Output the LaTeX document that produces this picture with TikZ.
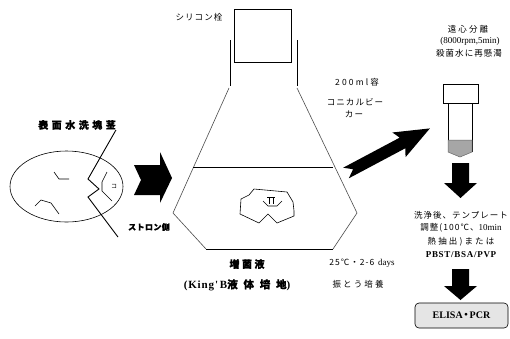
\documentclass[tikz,border=0pt]{standalone}
\usepackage{fontspec}
\setmainfont{Liberation Serif}
\newfontfamily\serifsp{Liberation Serif}[LetterSpace=8]
\newfontfamily\jpa{Noto Sans CJK JP}[LetterSpace=12]
\newfontfamily\jpb{Noto Sans CJK JP}[LetterSpace=25, BoldFeatures={FakeBold=1.2}]
\newfontfamily\jpc{Noto Sans CJK JP}[LetterSpace=35, BoldFeatures={FakeBold=1.2}]
\newfontfamily\jpd{Noto Sans CJK JP}[LetterSpace=55, BoldFeatures={FakeBold=1.2}]
\newfontfamily\jps{Noto Sans CJK JP}[LetterSpace=5, BoldFeatures={FakeBold=1.2}]
\newfontfamily\jpn{Noto Sans CJK JP}
\begin{document}
\begin{tikzpicture}[x=1pt,y=-1pt,
  outline/.style={draw=black!70, line width=0.6pt},
  inkline/.style={draw=black, line width=0.6pt},
  heavyline/.style={draw=black, line width=0.9pt},
  solidblock/.style={fill=black},
  lbl/.style={inner sep=0pt, anchor=center},
  jtext/.style={lbl, font=\jpa\fontsize{8.5}{10}\selectfont},
  jwide/.style={lbl, font=\jpb\fontsize{8.5}{10}\selectfont},
  jbold/.style={lbl, font=\jpc\bfseries\fontsize{10}{12}\selectfont},
  serif/.style={lbl, font=\fontsize{9}{10}\selectfont}]
\useasboundingbox (0,0) rectangle (510,338);
\fill[white] (0,0) rectangle (510,338);

% ---- cut tuber (left) ----
\draw[inkline] (66.5,186.5) ellipse [x radius=56.5pt, y radius=35.5pt];
\draw[inkline] (54,172) -- (59,179) -- (69,179);
\draw[inkline] (35,206) -- (41,200) -- (51,203) -- (59,214);
\draw[inkline] (107,172) -- (102,182) -- (102,191) -- (112,201);
\node[lbl, font=\jpn\fontsize{6}{6}\selectfont] (cmark) at (114,186) {コ};
\node[jbold] (washed) at (77,125) {表面水洗塊茎};
\node[lbl, font=\jps\bfseries\fontsize{8}{9}\selectfont] (stolon) at (149,227) {ストロン側};
\coordinate (cutend) at (118,237);
\draw[heavyline] (washed.south east) -- (88,179) -- (99,189) -- (88,197) -- (cutend);

% ---- block arrow into the flask ----
\fill[solidblock] (134,165) -- (160,165) -- (160,152) -- (172,178) -- (160,203)
  -- (160,195) -- (134,195) -- (141,180) -- cycle;

% ---- conical flask ----
\draw[heavyline] (234,9) rectangle (291,62);
\draw[heavyline] (230,40) -- (230,86);
\draw[heavyline] (297,40) -- (297,86);
\draw[outline] (229,88) -- (173,213) -- (206,249);
\draw[outline] (297,88) -- (357,213) -- (333,249);
\draw[heavyline] (206,249) -- (333,249);
\draw[heavyline] (193,167) -- (333,167);
\node[jtext] (stopper) at (199,17) {シリコン栓};
\node[jwide] (vol) at (357,82) {200ml容};
\node[jtext] (beaker1) at (355,102) {コニカルビー};
\node[jtext] (beaker2) at (354,114) {カー};

% tuber piece in the broth
\draw[inkline] (294,211) -- (294,216) -- (277,223) -- (268,214) -- (259,223)
  -- (240,214) -- (241,199) -- (249,195) -- (254,189) -- (287,192) -- (293,202) -- cycle;
\draw[inkline] (263,201) -- (268,206) -- (277,206) -- (282,201);
\draw[inkline] (267,197) -- (275,197) (269,197) -- (269,204) (273,197) -- (273,204);

\node[lbl, font=\jpb\bfseries\fontsize{10}{12}\selectfont] (broth) at (247,264) {増菌液};
\node[lbl, font=\serifsp\bfseries\fontsize{11}{12}\selectfont] (medium) at (237,285)
  {(King'\,B{\jpd\fontsize{10.5}{12}\selectfont 液体培地})};
\node[lbl] (cond) at (362,263)
  {{\jpa\fontsize{8.5}{10}\selectfont 25℃・2-6}\hspace{4pt}{\fontsize{9}{10}\selectfont days}};
\node[jwide] (shake) at (358,284) {振とう培養};

% ---- transfer arrow to the tube ----
\begin{scope}[shift={(346,173)}, rotate=28]
  \fill[solidblock] (0,-6) -- (64,-6) -- (60,-14) -- (95,0) -- (60,14) -- (64,6) -- (0,6)
    -- (8,0) -- cycle;
\end{scope}

% ---- centrifuge tube ----
\draw[heavyline] (443,84) rectangle (478,103);
\draw[inkline] (448,103) -- (448,152);
\draw[inkline] (472,103) -- (472,152);
\filldraw[fill=black!35, draw=black!60, line width=0.5pt]
  (448,140) -- (472,140) -- (472,152) -- (460,157) -- (448,152) -- cycle;
\node[jwide] (spin) at (468,29) {遠心分離};
\node[serif] (rpm) at (470,41) {(8000rpm,5min)};
\node[jtext] (resusp) at (469,53) {殺菌水に再懸濁};

\fill[solidblock] (452,163) -- (469,163) -- (469,183) -- (477,183) -- (460.5,198)
  -- (444,183) -- (452,183) -- cycle;

% ---- template preparation ----
\node[jtext] (prep1) at (461,215) {洗浄後、テンプレート};
\node[lbl] (prep2) at (461,228)
  {{\jpa\fontsize{8.5}{10}\selectfont 調整(100℃、}{\fontsize{9}{10}\selectfont 10min}};
\node[jwide] (prep3) at (461,242) {熱抽出)または};
\node[lbl, font=\serifsp\bfseries\fontsize{9}{10}\selectfont] (buffer) at (461,255) {PBST/BSA/PVP};

\fill[solidblock] (452,269) -- (469,269) -- (469,286) -- (477,286) -- (460.5,300)
  -- (444,286) -- (452,286) -- cycle;

% ---- detection ----
\draw[fill=black!10, draw=black, line width=0.6pt, rounded corners=4pt]
  (415,303) rectangle (508,328);
\node[lbl, font=\bfseries\fontsize{10}{12}\selectfont] (detect) at (461.5,315.5)
  {ELISA\kern-1.5pt{\jpn ・}\kern-1.5pt PCR};
\end{tikzpicture}
\end{document}
